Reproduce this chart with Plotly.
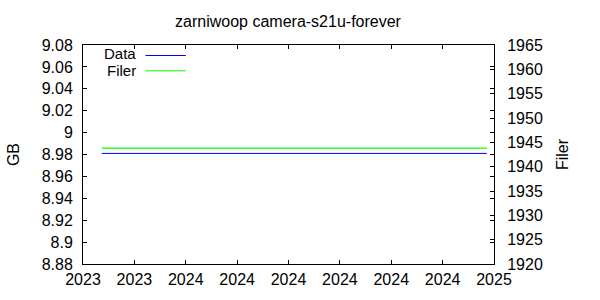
import pandas as pd
import plotly.graph_objects as go

# ---- data ----
dates = ["2023-10-22", "2024-12-24"]
gb_values = [8.981, 8.981]
filer_values = [1943.8, 1943.8]

x_range = ["2023-10-01", "2025-01-01"]
x_tick_labels = ["2023", "2023", "2024", "2024", "2024", "2024", "2024", "2024", "2025"]
y_tick_vals = [8.88, 8.90, 8.92, 8.94, 8.96, 8.98, 9.00, 9.02, 9.04, 9.06, 9.08]
y_tick_labels = ["8.88", "8.9", "8.92", "8.94", "8.96", "8.98", "9", "9.02", "9.04", "9.06", "9.08"]
y2_tick_vals = [1920, 1925, 1930, 1935, 1940, 1945, 1950, 1955, 1960, 1965]

title = "zarniwoop camera-s21u-forever"
series_names = ["Data", "Filer"]
colors = ["#0000ff", "#00ff00"]

x_tick_vals = pd.date_range(x_range[0], x_range[1], periods=len(x_tick_labels))

FONT = "Liberation Sans, Arial, sans-serif"
fs = 16

fig = go.Figure()
fig.add_trace(go.Scatter(x=pd.to_datetime(dates), y=gb_values, mode="lines",
                         name=series_names[0], line=dict(color=colors[0], width=1),
                         showlegend=False, yaxis="y"))
fig.add_trace(go.Scatter(x=pd.to_datetime(dates), y=filer_values, mode="lines",
                         name=series_names[1], line=dict(color=colors[1], width=1.3),
                         showlegend=False, yaxis="y2"))

axis_common = dict(showgrid=False, zeroline=False, showline=True, linecolor="black",
                   linewidth=1, ticks="inside", ticklen=4, tickcolor="black",
                   tickfont=dict(family=FONT, size=fs, color="black"))

fig.update_layout(
    width=600, height=300,
    margin=dict(l=82, r=106, t=45, b=32),
    paper_bgcolor="white", plot_bgcolor="white",
    font=dict(family=FONT, size=fs, color="black"),
    title=dict(text=title, x=0.48, xanchor="center", y=1 - 21 / 300, yanchor="middle",
               font=dict(family=FONT, size=fs, color="black")),
    xaxis=dict(range=list(pd.to_datetime(x_range)), tickvals=x_tick_vals, ticktext=x_tick_labels,
               mirror="ticks", ticklabelstandoff=1, **axis_common),
    yaxis=dict(range=[y_tick_vals[0], y_tick_vals[-1]], tickvals=y_tick_vals, ticktext=y_tick_labels,
               mirror="ticks", ticklabelstandoff=6,
               title=dict(text="GB", standoff=18, font=dict(family=FONT, size=fs)), **axis_common),
    yaxis2=dict(range=[y2_tick_vals[0], y2_tick_vals[-1]], tickvals=y2_tick_vals,
                overlaying="y", side="right", ticklabelstandoff=9,
                title=dict(text="Filer", standoff=14, font=dict(family=FONT, size=fs)), **axis_common),
)

# gnuplot-style key: label text, then a line sample
key_text_y = [0.9619, 0.8857]
key_line_y = [0.952, 0.882]
for name, color, ty, ly in zip(series_names, colors, key_text_y, key_line_y):
    fig.add_annotation(text=name, xref="paper", yref="paper", x=0.1325, y=ty,
                       xanchor="right", yanchor="middle", showarrow=False,
                       borderpad=0,
                       font=dict(family=FONT, size=15, color="black"))
    fig.add_shape(type="line", xref="paper", yref="paper", x0=0.152, x1=0.250, y0=ly, y1=ly,
                  line=dict(color=color, width=1))

fig.write_html("out.html")
